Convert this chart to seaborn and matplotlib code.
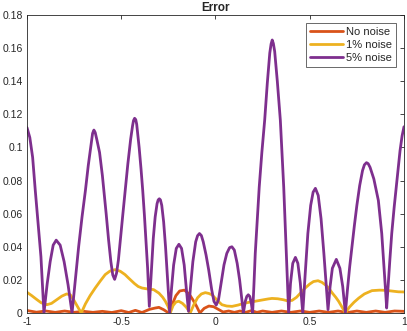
import matplotlib
matplotlib.use("Agg")
import matplotlib.pyplot as plt
import pandas as pd
import seaborn as sns

# Error curves
x_none = [-1.0, -0.95, -0.9, -0.85, -0.8, -0.75, -0.7, -0.65, -0.6, -0.55, -0.5, -0.46,
          -0.425, -0.39, -0.35, -0.32, -0.3, -0.275, -0.248, -0.23, -0.21, -0.19, -0.165,
          -0.14, -0.12, -0.1, -0.083, -0.06, -0.035, -0.01, 0.015, 0.04, 0.07, 0.1, 0.13,
          0.16, 0.19, 0.22, 0.25, 0.3, 0.35, 0.4, 0.45, 0.5, 0.55, 0.6, 0.65, 0.7, 0.75,
          0.8, 0.85, 0.9, 0.95, 1.0]
y_none = [0.0015, 0.0005, 0.0012, 0.0004, 0.0012, 0.0004, 0.0010, 0.0004, 0.0010, 0.0003,
          0.0014, 0.0003, 0.0016, 0.0003, 0.0022, 0.0030, 0.0034, 0.0020, 0.0, 0.0050,
          0.0105, 0.0133, 0.0138, 0.0115, 0.0080, 0.0040, 0.0, 0.0028, 0.0042, 0.0038,
          0.0022, 0.0006, 0.0012, 0.0004, 0.0012, 0.0004, 0.0014, 0.0004, 0.0012, 0.0004,
          0.0012, 0.0004, 0.0012, 0.0004, 0.0012, 0.0004, 0.0012, 0.0003, 0.0012, 0.0004,
          0.0012, 0.0004, 0.0012, 0.0010]

x_one = [-1.0, -0.975, -0.95, -0.925, -0.895, -0.87, -0.845, -0.815, -0.79, -0.77, -0.75,
         -0.73, -0.712, -0.69, -0.665, -0.638, -0.61, -0.585, -0.56, -0.532, -0.505, -0.48,
         -0.461, -0.43, -0.41, -0.39, -0.36, -0.328, -0.3, -0.28, -0.266, -0.252, -0.24,
         -0.225, -0.21, -0.195, -0.175, -0.155, -0.134, -0.115, -0.095, -0.075, -0.054,
         -0.035, -0.019, 0.0, 0.02, 0.034, 0.06, 0.088, 0.12, 0.15, 0.18, 0.211, 0.25,
         0.28, 0.3, 0.33, 0.36, 0.38, 0.406, 0.43, 0.455, 0.476, 0.5, 0.52, 0.544, 0.565,
         0.585, 0.6, 0.62, 0.638, 0.653, 0.67, 0.689, 0.71, 0.735, 0.76, 0.79, 0.83, 0.87,
         0.901, 0.94, 0.97, 1.0]
y_one = [0.0125, 0.0105, 0.0083, 0.0062, 0.0050, 0.0058, 0.0078, 0.0102, 0.0115, 0.0110,
         0.0075, 0.0035, 0.0, 0.0055, 0.0105, 0.0151, 0.0195, 0.0232, 0.0253, 0.0262,
         0.0252, 0.0232, 0.0211, 0.0178, 0.0160, 0.0151, 0.0145, 0.0141, 0.0120, 0.0095,
         0.0071, 0.0040, 0.0, 0.0045, 0.0066, 0.0071, 0.0058, 0.0035, 0.0, 0.0050, 0.0092,
         0.0115, 0.0123, 0.0118, 0.0110, 0.0088, 0.0065, 0.0050, 0.0042, 0.0040, 0.0048,
         0.0058, 0.0065, 0.0071, 0.0079, 0.0085, 0.0088, 0.0086, 0.0080, 0.0074, 0.0076,
         0.0095, 0.0125, 0.0151, 0.0175, 0.0190, 0.0195, 0.0185, 0.0168, 0.0151, 0.0120,
         0.0095, 0.0071, 0.0038, 0.0, 0.0035, 0.0065, 0.0090, 0.0115, 0.0135, 0.0138,
         0.0137, 0.0132, 0.0128, 0.0127]

x_five = [-1.0, -0.985, -0.97, -0.956, -0.94, -0.926, -0.91, -0.893, -0.877, -0.861, -0.845,
          -0.824, -0.803, -0.782, -0.761, -0.745, -0.726, -0.708, -0.69, -0.675, -0.66,
          -0.652, -0.645, -0.638, -0.63, -0.615, -0.6, -0.58, -0.567, -0.555, -0.545,
          -0.535, -0.525, -0.515, -0.505, -0.492, -0.479, -0.465, -0.45, -0.44, -0.435,
          -0.429, -0.423, -0.418, -0.405, -0.395, -0.386, -0.377, -0.369, -0.36, -0.354,
          -0.351, -0.347, -0.34, -0.33, -0.32, -0.31, -0.304, -0.298, -0.292, -0.285,
          -0.275, -0.265, -0.255, -0.243, -0.233, -0.222, -0.208, -0.194, -0.18, -0.166,
          -0.155, -0.143, -0.133, -0.12, -0.105, -0.095, -0.085, -0.075, -0.065, -0.05,
          -0.036, -0.02, -0.008, 0.004, 0.016, 0.03, 0.045, 0.06, 0.075, 0.087, 0.1, 0.115,
          0.128, 0.138, 0.148, 0.158, 0.166, 0.174, 0.182, 0.19, 0.197, 0.204, 0.211,
          0.222, 0.232, 0.246, 0.261, 0.275, 0.288, 0.295, 0.301, 0.307, 0.314, 0.328,
          0.344, 0.362, 0.376, 0.382, 0.388, 0.398, 0.41, 0.424, 0.437, 0.45, 0.463, 0.475,
          0.49, 0.505, 0.518, 0.53, 0.545, 0.56, 0.575, 0.587, 0.597, 0.608, 0.62, 0.641,
          0.66, 0.675, 0.689, 0.7, 0.712, 0.724, 0.737, 0.75, 0.765, 0.78, 0.79, 0.801,
          0.81, 0.82, 0.84, 0.864, 0.882, 0.894, 0.902, 0.908, 0.915, 0.925, 0.935, 0.948,
          0.961, 0.979, 0.99, 1.0]
y_five = [0.112, 0.106, 0.094, 0.074, 0.053, 0.034, 0.0, 0.0175, 0.031, 0.041, 0.044,
          0.041, 0.031, 0.017, 0.0, 0.018, 0.040, 0.058, 0.074, 0.089, 0.102,
          0.1085, 0.1105, 0.109, 0.105, 0.097, 0.083, 0.060, 0.044, 0.031, 0.023,
          0.0203, 0.024, 0.032, 0.044, 0.059, 0.074, 0.090, 0.105, 0.113, 0.1162,
          0.1176, 0.1168, 0.114, 0.100, 0.087, 0.074, 0.059, 0.044, 0.027, 0.012,
          0.004, 0.012, 0.027, 0.045, 0.058, 0.066, 0.0683, 0.069, 0.0683, 0.065,
          0.055, 0.040, 0.022, 0.0, 0.015, 0.029, 0.039, 0.0415, 0.039, 0.029,
          0.015, 0.001, 0.015, 0.031, 0.043, 0.0467, 0.048, 0.0468, 0.043, 0.035,
          0.026, 0.014, 0.007, 0.0048, 0.008, 0.018, 0.029, 0.036, 0.0395, 0.040, 0.038, 0.030,
          0.020, 0.010, 0.0, 0.007, 0.010, 0.011, 0.010, 0.006, 0.0, 0.017, 0.036,
          0.057, 0.076, 0.097, 0.1165, 0.139, 0.157, 0.1625, 0.1649, 0.1628, 0.158, 0.140,
          0.1165, 0.076, 0.036, 0.018, 0.0, 0.018, 0.030, 0.0336, 0.030, 0.018, 0.0, 0.022,
          0.048, 0.065, 0.073, 0.0753, 0.071, 0.057, 0.036, 0.017, 0.002, 0.016, 0.027, 0.0324,
          0.027, 0.016, 0.0, 0.014, 0.028, 0.040, 0.053, 0.065, 0.077, 0.086, 0.0895, 0.0908,
          0.0902, 0.088, 0.081, 0.068, 0.048, 0.028, 0.014, 0.003, 0.015, 0.032, 0.048, 0.064,
          0.078, 0.098, 0.107, 0.1125]

labels = ["No noise", "1% noise", "5% noise"]
colors = ["#D95319", "#EDB120", "#7E2F8E"]
x_ticks = [-1, -0.5, 0, 0.5, 1]
x_ticklabels = ["-1", "-0.5", "0", "0.5", "1"]
y_ticks = [0, 0.02, 0.04, 0.06, 0.08, 0.1, 0.12, 0.14, 0.16, 0.18]
y_ticklabels = ["0", "0.02", "0.04", "0.06", "0.08", "0.1", "0.12", "0.14", "0.16", "0.18"]

sns.set_style("white")
plt.rcParams["font.family"] = ["Liberation Sans", "DejaVu Sans"]

fig = plt.figure(figsize=(4.07, 3.31), dpi=100)
ax = fig.add_axes([0.0663, 0.0544, 0.9263, 0.9003])

series = [(x_none, y_none), (x_one, y_one), (x_five, y_five)]
for (xs, ys), lab, col in zip(series, labels, colors):
    df = pd.DataFrame({"x": xs, "err": ys})
    sns.lineplot(data=df, x="x", y="err", ax=ax, color=col, lw=2, label=lab, sort=False,
                 solid_joinstyle="round")

ax.set_xlim(-1, 1)
ax.set_ylim(0, 0.18)
ax.set_xticks(x_ticks)
ax.set_xticklabels(x_ticklabels)
ax.set_yticks(y_ticks)
ax.set_yticklabels(y_ticklabels)
ax.set_xlabel("")
ax.set_ylabel("")
ax.set_title("Error", fontsize=8.5, fontweight="bold", pad=3)
ax.tick_params(direction="in", length=3, width=0.6, labelsize=7.5, colors="#262626",
               top=True, right=True, labeltop=False, labelright=False, pad=3)
for s in ax.spines.values():
    s.set_visible(True)
    s.set_color("#262626")
    s.set_linewidth(0.6)

leg = ax.legend(loc="upper right", fontsize=8, frameon=True, fancybox=False,
                borderpad=0.35, handlelength=3.0, handletextpad=0.3, labelspacing=0.3,
                borderaxespad=0.7)
leg.get_frame().set_edgecolor("#262626")
leg.get_frame().set_linewidth(0.6)

fig.savefig("out.png", dpi=100)
